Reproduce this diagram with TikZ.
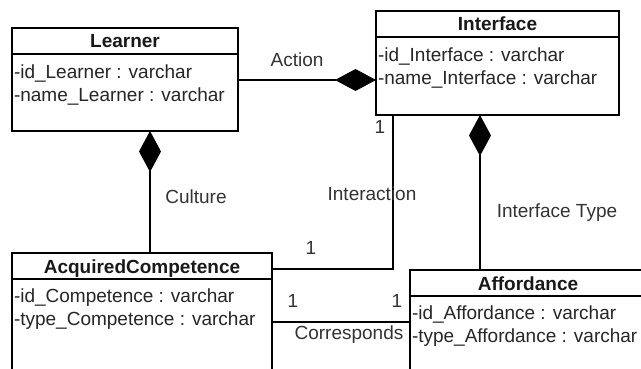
\documentclass[tikz,border=0pt]{standalone}
\usepackage{fontspec}
\setmainfont{Liberation Sans}
\usetikzlibrary{arrows.meta,calc}
\begin{document}
\begin{tikzpicture}[x=1pt,y=-1pt,
  every node/.style={font=\fontsize{19}{22}\selectfont, inner sep=0pt, outer sep=0pt},
  box/.style={draw=black, line width=1.3pt, fill=white, anchor=north west},
  hdr/.style={line width=1.3pt},
  ttl/.style={anchor=base, font=\fontsize{19}{22}\selectfont\bfseries, text=black!90},
  attr/.style={anchor=base west, text=black!85},
  lbl/.style={text=black!80},
  conn/.style={line width=1.3pt},
  comp/.tip={Diamond[length=41pt,width=22pt]}
]
\useasboundingbox (0,0) rectangle (641,369);
\fill[white] (0,0) rectangle (641,369);
\clip (0,0) rectangle (641,369);

% classes
\node[box, minimum width=226pt, minimum height=103pt] (learner) at (12,28) {};
\node[box, minimum width=243pt, minimum height=104pt] (iface) at (376,11) {};
\node[box, minimum width=260pt, minimum height=130pt] (acq) at (12,253) {};
\node[box, minimum width=236pt, minimum height=110pt] (aff) at (410,270) {};

% header separators
\draw[hdr] ($(learner.north west)+(0,26)$) -- ($(learner.north east)+(0,26)$);
\draw[hdr] ($(iface.north west)+(0,26)$) -- ($(iface.north east)+(0,26)$);
\draw[hdr] ($(acq.north west)+(0,26)$) -- ($(acq.north east)+(0,26)$);
\draw[hdr] ($(aff.north west)+(0,26)$) -- ($(aff.north east)+(0,26)$);

% titles
\node[ttl] (learnerT) at ($(learner.north)+(0,20)$) {Learner};
\node[ttl] (ifaceT) at ($(iface.north)+(0,20)$) {Interface};
\node[ttl] (acqT) at ($(acq.north)+(0,20)$) {AcquiredCompetence};
\node[ttl] (affT) at ($(aff.north)+(0,20)$) {Affordance};

% attributes
\node[attr] (la1) at ($(learner.north west)+(2,51)$) {-id\_Learner : varchar};
\node[attr] (la2) at ($(learner.north west)+(2,74)$) {-name\_Learner : varchar};
\node[attr] (ia1) at ($(iface.north west)+(2,51)$) {-id\_Interface : varchar};
\node[attr] (ia2) at ($(iface.north west)+(2,74)$) {-name\_Interface : varchar};
\node[attr] (ca1) at ($(acq.north west)+(2,49)$) {-id\_Competence : varchar};
\node[attr] (ca2) at ($(acq.north west)+(2,72)$) {-type\_Competence : varchar};
\node[attr] (fa1) at ($(aff.north west)+(2,49)$) {-id\_Affordance : varchar};
\node[attr] (fa2) at ($(aff.north west)+(2,72)$) {-type\_Affordance : varchar};

% connectors
\draw[conn, -comp] ($(learner.north east)+(0,52)$) -- ($(iface.north west)+(0,69)$);
\draw[conn, comp-] ($(learner.south west)+(138,0)$) -- ($(acq.north west)+(138,0)$);
\draw[conn, comp-] ($(iface.south west)+(104,0)$) -- ($(aff.north west)+(70,0)$);
\draw[conn] ($(iface.south west)+(17,0)$) |- ($(acq.north east)+(0,16)$);
\draw[conn] ($(acq.north east)+(0,69)$) -- ($(aff.north west)+(0,52)$);

% labels
\node[lbl] (lAction) at (297,60) {Action};
\node[lbl] (lCulture) at (196,197) {Culture};
\node[lbl] (lInteraction) at (372,194) {Interaction};
\node[lbl] (lIType) at (557,213) {Interface Type};
\node[lbl] (lCorr) at (349,335) {Corresponds};
\node[lbl] (m1) at (380,127) {1};
\node[lbl] (m2) at (311,248) {1};
\node[lbl] (m3) at (293,301) {1};
\node[lbl] (m4) at (397,301) {1};
\end{tikzpicture}
\end{document}
